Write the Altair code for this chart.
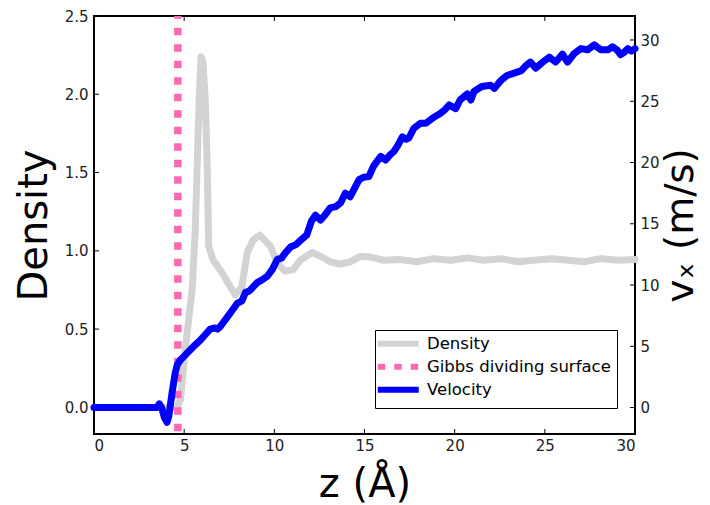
import altair as alt
import pandas as pd

# ---- data ----
z_density = [0, 2, 4, 4.4, 4.6, 4.8, 5.0, 5.17, 5.44, 5.61, 5.72, 5.83, 5.94, 6.05, 6.17,
             6.28, 6.36, 6.5, 6.61, 7.1, 7.56, 7.83, 8.2, 8.5, 8.83, 9.2, 9.78, 10.17,
             10.6, 11.05, 11.44, 12.1, 12.56, 13.1, 13.67, 14.2, 14.78, 15.33, 16.07,
             17.0, 17.9, 18.85, 19.8, 20.7, 21.6, 22.6, 23.5, 24.4, 25.4, 26.3, 27.2,
             28.1, 29.1, 30.0]
density = [0, 0, 0, 0, 0.0, 0.05, 0.3, 0.48, 0.75, 1.12, 1.54, 1.96, 2.24, 2.2, 1.96,
           1.54, 1.03, 0.98, 0.94, 0.86, 0.77, 0.72, 0.77, 0.99, 1.07, 1.10, 1.03, 0.92,
           0.87, 0.88, 0.94, 0.99, 0.965, 0.93, 0.915, 0.93, 0.965, 0.96, 0.94,
           0.944, 0.93, 0.95, 0.94, 0.955, 0.94, 0.95, 0.93, 0.94, 0.95, 0.94, 0.93,
           0.95, 0.94, 0.944]

z_velocity = [0, 1, 2, 3, 3.5, 3.62, 3.75, 3.9, 4.05, 4.15, 4.33, 4.5, 4.62, 4.8, 5.0,
              5.33, 5.6, 5.9, 6.2, 6.44, 6.7, 6.85, 7.0, 7.2, 7.4, 7.7, 7.94, 8.2, 8.4,
              8.6, 8.8, 9.05, 9.3, 9.6, 9.9, 10.17, 10.4, 10.6, 10.9, 11.2, 11.5, 11.8,
              12.05, 12.28, 12.56, 12.8, 13.1, 13.4, 13.67, 13.94, 14.2, 14.45, 14.7,
              14.95, 15.24, 15.5, 15.9, 16.17, 16.4, 16.63, 16.85, 17.1, 17.3, 17.46,
              17.74, 18.1, 18.4, 18.85, 19.2, 19.45, 19.7, 20.06, 20.3, 20.7, 20.9,
              21.07, 21.5, 22.0, 22.2, 22.56, 22.9, 23.3, 23.7, 23.95, 24.2, 24.5, 24.8,
              25.24, 25.6, 25.98, 26.26, 26.63, 27.0, 27.37, 27.74, 28.1, 28.5, 28.76,
              29.0, 29.2, 29.4, 29.6, 29.8, 30.0]
velocity = [0, 0, 0, 0, 0, 0.3, 0.0, -0.8, -1.2, -0.7, 1.2, 2.8, 3.5, 3.9, 4.2,
            4.7, 5.1, 5.5, 6.0, 6.4, 6.5, 6.4, 6.6, 7.0, 7.4, 8.0, 8.5, 8.7, 9.4,
            9.5, 9.8, 10.2, 10.4, 10.7, 11.3, 12.1, 12.2, 12.6, 13.1, 13.3, 13.7, 14.1,
            15.2, 15.7, 15.3, 15.7, 16.3, 16.4, 16.7, 17.5, 17.2, 17.9, 18.6,
            18.8, 18.85, 19.7, 20.5, 20.2, 20.6, 20.9, 21.4, 22.1, 21.9, 22.0,
            22.8, 23.2, 23.2, 23.7, 24.0, 24.3, 24.7, 24.4, 25.1, 25.6, 25.1,
            25.8, 26.2, 26.3, 26.05, 26.7, 27.1, 27.3, 27.5, 27.9, 28.2, 27.7, 28.1,
            28.6, 28.2, 28.85, 28.2, 28.9, 29.3, 29.2, 29.6, 29.2, 29.2, 29.45,
            29.2, 28.8, 29.0, 29.3, 29.1, 29.3]

gibbs_z = [4.65]

x_ticks = [0, 5, 10, 15, 20, 25, 30]
density_ticks = [0.0, 0.5, 1.0, 1.5, 2.0, 2.5]
velocity_ticks = [0, 5, 10, 15, 20, 25, 30]

series = ["Density", "Gibbs dividing surface", "Velocity"]
colors = ["#d3d3d3", "#ff69b4", "#0000ff"]
dashes = [[1, 0], [7.5, 9], [1, 0]]

# ---- tables ----
df_d = pd.DataFrame({"z": z_density, "val": density, "series": "Density"})
df_v = pd.DataFrame({"z": z_velocity, "val": velocity, "series": "Velocity"})
df_g = pd.DataFrame({"z": gibbs_z, "series": "Gibbs dividing surface"})
df_xt = pd.DataFrame({"t": x_ticks})
df_dt = pd.DataFrame({"t": density_ticks})
df_vt = pd.DataFrame({"t": velocity_ticks})

W, H = 541, 418
FONT = "DejaVu Sans"
LBL = 15

x_scale = alt.Scale(domain=[0, 30], nice=False, zero=False)
yd_scale = alt.Scale(domain=[-0.17, 2.5], nice=False, zero=False)
yv_scale = alt.Scale(domain=[-2.16, 31.96], nice=False, zero=False)

# horizontal line legend symbol: unit path scaled by sqrt(size)/2 = 5 -> ~41 px long
legend = alt.Legend(
    title=None, orient="none", legendX=281, legendY=314,
    symbolType="M-2.2,0H6.0", symbolSize=100, symbolStrokeWidth=6,
    labelFontSize=16.5, labelFont=FONT, labelColor="black", labelOffset=30,
    strokeColor="black", fillColor="white", padding=5.5, rowPadding=-2,
    cornerRadius=0, labelLimit=400,
)
color_enc = alt.Color("series:N", scale=alt.Scale(domain=series, range=colors), legend=legend)
dash_enc = alt.StrokeDash("series:N", scale=alt.Scale(domain=series, range=dashes), legend=legend)

x_axis = alt.Axis(
    orient="bottom", values=x_ticks, format="d", title="z (Å)", titleFontSize=40,
    titleX=W / 2, titleY=62, titleBaseline="alphabetic", titleAlign="center",
    ticks=False, domain=False, labelPadding=4, labelFontSize=LBL,
)
d_axis = alt.Axis(
    orient="left", values=density_ticks, format=".1f", title="Density", titleFontSize=40,
    titleAngle=270, titleX=-48, titleY=H / 2, titleBaseline="alphabetic", titleAlign="center",
    ticks=False, domain=False, labelPadding=6, labelFontSize=LBL,
)
v_axis = alt.Axis(
    orient="right", values=velocity_ticks, format="d", title="vₓ (m/s)", titleFontSize=39,
    titleAngle=270, titleX=57, titleY=H / 2, titleBaseline="alphabetic", titleAlign="center",
    ticks=False, domain=False, labelPadding=5, labelFontSize=LBL,
)

density_line = alt.Chart(df_d).mark_line(strokeWidth=7, strokeJoin="round", strokeCap="round").encode(
    x=alt.X("z:Q", scale=x_scale, axis=x_axis),
    y=alt.Y("val:Q", scale=yd_scale, axis=d_axis),
    color=color_enc,
    order=alt.Order("z:Q"),
)
gibbs = alt.Chart(df_g).mark_rule(strokeWidth=7.5, strokeCap="butt", strokeDashOffset=4.8).encode(
    x=alt.X("z:Q", scale=x_scale),
    color=color_enc,
    strokeDash=dash_enc,
)
xt_bottom = alt.Chart(df_xt).mark_rule(color="black", strokeWidth=1).encode(
    x=alt.X("t:Q", scale=x_scale), y=alt.value(H), y2=alt.value(H - 5)
)
xt_top = alt.Chart(df_xt).mark_rule(color="black", strokeWidth=1).encode(
    x=alt.X("t:Q", scale=x_scale), y=alt.value(0), y2=alt.value(5)
)
dt_left = alt.Chart(df_dt).mark_rule(color="black", strokeWidth=1).encode(
    y=alt.Y("t:Q", scale=yd_scale), x=alt.value(0), x2=alt.value(5)
)
density_group = alt.layer(density_line, gibbs, xt_bottom, xt_top, dt_left)

velocity_line = alt.Chart(df_v).mark_line(strokeWidth=7, strokeJoin="round", strokeCap="round").encode(
    x=alt.X("z:Q", scale=x_scale),
    y=alt.Y("val:Q", scale=yv_scale, axis=v_axis),
    color=color_enc,
    order=alt.Order("z:Q"),
)
vt_right = alt.Chart(df_vt).mark_rule(color="black", strokeWidth=1).encode(
    y=alt.Y("t:Q", scale=yv_scale), x=alt.value(W), x2=alt.value(W - 5)
)
velocity_group = alt.layer(velocity_line, vt_right)

chart = alt.layer(density_group, velocity_group).resolve_scale(y="independent").properties(
    width=W, height=H,
    autosize=alt.AutoSizeParams(type="none"),
    padding={"left": 86, "top": 8, "right": 67, "bottom": 72},
).configure(font=FONT).configure_view(stroke="black", strokeWidth=2).configure_axis(
    labelFont=FONT, titleFont=FONT, labelColor="#222222", titleColor="black",
    titleFontWeight="normal", grid=False,
)

chart.save("out.html", embed_options={"renderer": "svg", "actions": False})
